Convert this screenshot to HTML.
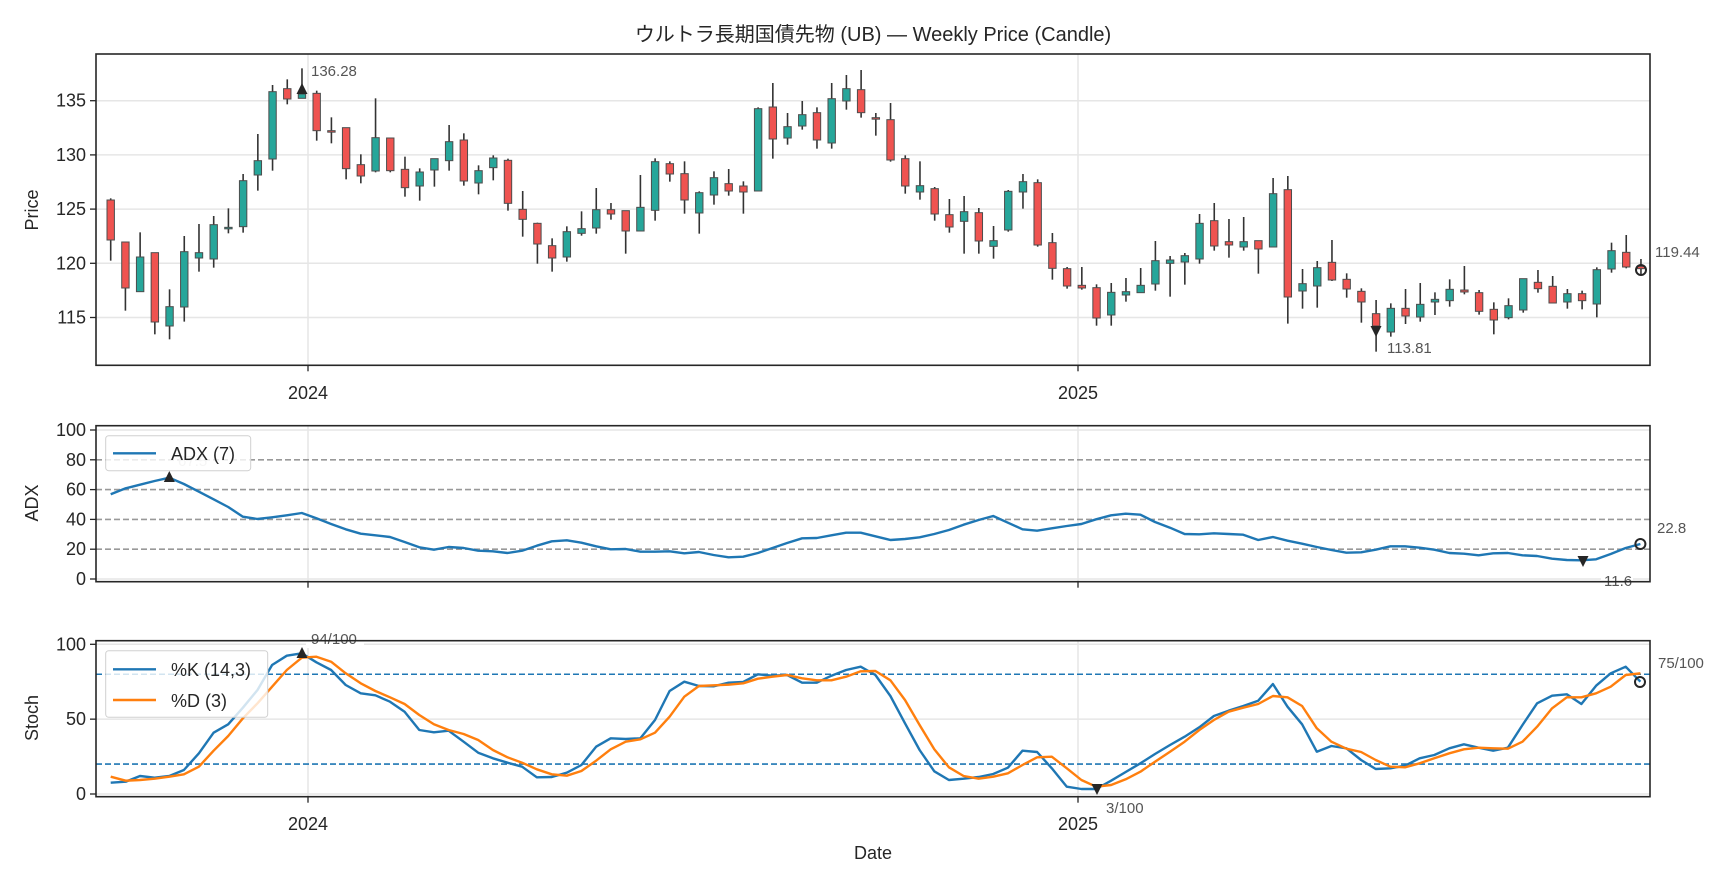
<!DOCTYPE html>
<html><head><meta charset="utf-8"><style>
html,body{margin:0;padding:0;background:#fff;}
svg{display:block;font-family:"Liberation Sans","Noto Sans CJK JP",sans-serif;}
</style></head><body>
<svg id="s" width="1728" height="878" viewBox="0 0 1728 878" xmlns="http://www.w3.org/2000/svg"></svg>
<script>
const S=document.getElementById('s');let h='';
const L=96,R=1650;
function line(x1,y1,x2,y2,c,w,da){h+=`<line x1="${x1}" y1="${y1}" x2="${x2}" y2="${y2}" stroke="${c}" stroke-width="${w}"${da?` stroke-dasharray="${da}"`:''}/>`;}
function txt(x,y,t,sz,anc,col,extra){h+=`<text x="${x}" y="${y}" font-size="${sz}" text-anchor="${anc||'start'}" fill="${col||'#262626'}" ${extra||''}>${t}</text>`;}
// Title
txt(873,41,'ウルトラ長期国債先物 (UB) — Weekly Price (Candle)',20,'middle');
// Panels
const P=[[54,365.3],[425.7,581.7],[640.7,796.7]];
// price grid
const py=p=>100.7+(135-p)*10.84;
[135,130,125,120,115].forEach(p=>{line(L,py(p),R,py(p),'#e6e6e6',1.5);line(L-6,py(p),L,py(p),'#262626',1.3);txt(L-10,py(p)+6,p,18,'end');});
[308,1078].forEach(x=>{[0,1,2].forEach(k=>line(x,P[k][0],x,P[k][1],'#e6e6e6',1.5));});
// candles
const C=[[450,570,445,632,1],[576,714,576,782,1],[621,725,547,725,0],[608,816,608,853,1],[770,828,718,868,0],[605,771,558,815,0],[608,624,522,665,0],[524,627,498,653,0],[532,536,475,550,0],[392,530,372,548,0],[332,375,252,422,0],[125,327,105,362,0],[116,147,88,163,1],[132,145,55,145,0],[130,242,122,272,1],[242,245,202,280,1],[233,356,233,388,1],[344,378,313,400,1],[263,363,145,367,0],[264,362,264,367,1],[358,413,320,440,1],[366,408,355,452,0],[326,360,326,410,0],[275,332,225,362,0],[270,393,250,407,1],[362,399,346,433,0],[324,353,316,391,0],[331,460,326,482,1],
[478,508,423,560,1],[520,582,518,641,1],[587,624,565,665,1],[545,621,529,635,0],[536,550,484,557,0],[479,534,414,551,0],[479,492,459,509,1],[482,543,482,611,1],[472,543,375,543,0],[335,481,325,512,0],[341,372,334,395,1],[371,450,334,491,1],[428,489,424,551,0],[383,435,364,464,0],[401,423,357,437,1],[408,426,394,491,1],[176,423,172,423,0],[171,267,99,326,1],[230,264,189,284,0],[194,228,153,239,0],[188,270,172,296,1],[146,279,99,296,0],[116,153,75,179,0],[119,188,60,203,1],[203,207,189,257,1],[209,330,159,335,1],[326,408,316,431,1],
[407,426,334,449,0],[416,492,411,512,1],[494,531,447,548,1],[485,514,438,611,0],[488,573,474,611,1],[572,589,528,626,0],[424,540,420,545,0],[395,426,372,476,0],[398,585,388,590,1],[578,655,549,689,1],[656,708,651,716,1],[706,714,651,719,1],[713,804,703,827,1],[727,795,699,827,0],[725,735,684,755,0],[706,728,654,728,0],[632,702,573,722,0],[630,640,618,740,0],[617,636,609,704,0],[520,627,492,641,0],[512,588,459,602,1],[575,585,507,623,1],[575,591,501,602,0],[572,597,572,671,1],[431,591,384,591,0],[419,741,378,821,1],[701,723,657,776,0],[653,708,633,773,0],
[637,690,570,693,1],[688,717,670,743,1],[724,756,715,818,1],[791,828,750,905,1],[775,846,760,860,0],[775,798,717,822,1],[763,801,699,815,0],[748,756,727,795,0],[718,752,688,770,0],[720,726,648,733,1],[728,784,720,794,1],[778,810,757,853,1],[767,803,745,808,0],[686,780,686,788,0],[697,716,660,728,1],[709,759,678,759,1],[731,756,717,776,0],[731,752,722,778,1],[659,762,652,802,0],[602,657,578,668,0],[607,651,555,655,1],[649,656,627,672,1]];
const cx=i=>110.7+14.714*i;
C.forEach((c,i)=>{const x=cx(i),y=v=>50+v/3;
 line(x,y(c[2]),x,y(c[3]),'#333',1.6);
 let t=y(c[0]),b=y(c[1]);if(b-t<1.5){b=t+1.5;}
 h+=`<rect x="${x-3.7}" y="${t}" width="7.4" height="${b-t}" fill="${c[4]?'#ef5350':'#26a69a'}" stroke="#4d4d4d" stroke-width="1"/>`;});
// price markers
h+=`<polygon points="302,83 296.5,94 307.5,94" fill="#262626"/>`;
txt(311,76,'136.28',15,'start','#555');
h+=`<polygon points="1376,337 1370.5,326 1381.5,326" fill="#262626"/>`;
txt(1387,353,'113.81',15,'start','#555');
h+=`<circle cx="1641" cy="270" r="5" fill="none" stroke="#262626" stroke-width="2"/>`;
txt(1655,257,'119.44',15,'start','#555');
// ADX panel
const ay=v=>579-1.49*v;
[0,100].forEach(v=>line(L,ay(v),R,ay(v),'#e6e6e6',1.5));
[20,40,60,80].forEach(v=>line(L,ay(v),R,ay(v),'#999',1.6,'6,3'));
[0,20,40,60,80,100].forEach(v=>{line(L-6,ay(v),L,ay(v),'#262626',1.3);txt(L-10,ay(v)+6,v,18,'end');});
// Stoch panel
const sy=v=>794-1.497*v;
[0,50,100].forEach(v=>line(L,sy(v),R,sy(v),'#e6e6e6',1.5));
[20,80].forEach(v=>line(L,sy(v),R,sy(v),'#1f77b4',1.6,'6,3'));
[0,50,100].forEach(v=>{line(L-6,sy(v),L,sy(v),'#262626',1.3);txt(L-10,sy(v)+6,v,18,'end');});
function poly(segs,col){let pts=[];segs.forEach(([ox,arr])=>arr.forEach(([zx,zy])=>pts.push([(ox+zx/2.8).toFixed(1),(410+zy/3).toFixed(1)])));
 pts.sort((a,b)=>a[0]-b[0]);pts=pts.filter(p=>p[0]>=110&&p[0]<=1641);
 h+=`<polyline points="${pts.map(p=>p.join(',')).join(' ')}" fill="none" stroke="${col}" stroke-width="2.4" stroke-linejoin="round"/>`;}
poly([[0,[[310,253],[352,235],[392,224],[433,213],[474,203],[515,222],[557,245],[598,268],[639,291],[680,320],[721,327],[762,322],[803,316],[845,309],[886,325],[927,342],[968,358],[1010,371],[1051,376],[1092,381],[1133,396],[1174,412],[1215,419],[1256,411],[1298,414],[1339,422],[1380,424],[1421,429],[1462,422],[1503,407],[1545,394]]],
[550,[[47,391],[88,398],[129,409],[170,418],[212,417],[253,425],[294,425],[335,424],[376,430],[417,426],[458,435],[500,442],[541,440],[582,429],[623,414],[664,399],[706,385],[747,384],[788,376],[829,368],[870,368],[911,379],[953,390],[994,387],[1035,382],[1076,372],[1117,360],[1158,344],[1200,330],[1241,318],[1282,338],[1323,358],[1364,362],[1405,355],[1447,348],[1488,342],[1529,328]]],
[1100,[[31,316],[72,311],[113,314],[154,336],[196,353],[237,372],[278,373],[319,370],[360,372],[401,374],[443,390],[484,381],[525,392],[566,401],[607,411],[648,420],[690,428],[731,427],[772,419],[813,409],[854,409],[895,413],[936,419],[978,429],[1019,431],[1060,436],[1101,430],[1142,429],[1183,436],[1224,438],[1266,446],[1307,450],[1348,451],[1389,448],[1430,432],[1472,414],[1513,402]]]],'#1f77b4');
poly([[0,[[310,1118],[352,1115],[392,1098],[433,1103],[474,1098],[515,1080],[557,1030],[598,968],[639,943],[680,893],[721,840],[762,765],[803,737],[845,730],[886,757],[927,780],[968,825],[1010,850],[1051,856],[1092,875],[1133,905],[1174,960],[1215,967],[1256,962],[1298,995],[1339,1028],[1380,1045],[1421,1058],[1462,1070],[1503,1102],[1545,1101]]],
[550,[[47,1088],[88,1065],[129,1010],[170,985],[212,987],[253,985],[294,930],[335,843],[376,815],[417,828],[458,829],[500,818],[541,816],[582,793],[623,797],[664,795],[706,818],[747,818],[788,797],[829,780],[870,770],[911,795],[953,858],[994,940],[1035,1020],[1076,1084],[1117,1110],[1158,1106],[1200,1101],[1241,1092],[1282,1073],[1323,1022],[1364,1026],[1405,1075],[1447,1130],[1488,1137],[1529,1137]]],
[1100,[[31,1112],[72,1086],[113,1060],[154,1032],[196,1005],[237,980],[278,952],[319,918],[360,902],[401,888],[443,872],[484,822],[525,890],[566,943],[607,1025],[648,1008],[690,1015],[731,1050],[772,1077],[813,1075],[854,1067],[895,1045],[936,1035],[978,1015],[1019,1003],[1060,1013],[1101,1022],[1142,1013],[1183,945],[1224,880],[1266,857],[1307,853],[1348,882],[1389,827],[1430,790],[1472,770],[1513,815]]]],'#1f77b4');
poly([[0,[[310,1100],[352,1112],[392,1110],[433,1106],[474,1100],[515,1093],[557,1070],[598,1022],[639,978],[680,925],[721,880],[762,830],[803,780],[845,743],[886,740],[927,755],[968,790],[1010,820],[1051,843],[1092,862],[1133,882],[1174,915],[1215,943],[1256,960],[1298,972],[1339,990],[1380,1020],[1421,1042],[1462,1058],[1503,1078],[1545,1093]]],
[550,[[47,1097],[88,1083],[129,1052],[170,1018],[212,995],[253,988],[294,968],[335,920],[376,860],[417,828],[458,826],[500,824],[541,820],[582,806],[623,800],[664,795],[706,805],[747,811],[788,811],[829,800],[870,784],[911,783],[953,811],[994,870],[1035,945],[1076,1018],[1117,1072],[1158,1098],[1200,1106],[1241,1100],[1282,1090],[1323,1065],[1364,1042],[1405,1040],[1447,1075],[1488,1110],[1529,1130]]],
[1100,[[31,1125],[72,1108],[113,1085],[154,1055],[196,1025],[237,995],[278,960],[319,930],[360,905],[401,893],[443,882],[484,858],[525,862],[566,888],[607,955],[648,995],[690,1016],[731,1026],[772,1050],[813,1070],[854,1072],[895,1060],[936,1045],[978,1030],[1019,1018],[1060,1013],[1101,1015],[1142,1016],[1183,995],[1224,950],[1266,895],[1307,862],[1348,862],[1389,850],[1430,830],[1472,795],[1513,790]]]],'#ff7f0e');
// ADX markers
h+=`<polygon points="169.3,471 163.8,482 174.8,482" fill="#262626"/>`;
txt(178,466,'67.5',15,'start','#ccc');
h+=`<polygon points="1583,567 1577.5,556 1588.5,556" fill="#262626"/>`;
h+=`<rect x="1601" y="572" width="32" height="18" fill="#fff"/>`;
txt(1604,586,'11.6',15,'start','#555');
h+=`<circle cx="1640.4" cy="544" r="5" fill="none" stroke="#262626" stroke-width="2"/>`;
txt(1657,533,'22.8',15,'start','#555');
// Stoch markers
h+=`<rect x="306" y="630" width="58" height="18" fill="#fff"/>`;
txt(311,644,'94/100',15,'start','#555');
h+=`<polygon points="302,647 296.5,658 307.5,658" fill="#262626"/>`;
h+=`<polygon points="1097,795 1091.5,784 1102.5,784" fill="#262626"/>`;
txt(1106,813,'3/100',15,'start','#555');
h+=`<circle cx="1640" cy="682" r="5" fill="none" stroke="#262626" stroke-width="2"/>`;
txt(1658,668,'75/100',15,'start','#555');
// legends
h+=`<rect x="105.7" y="435.7" width="145" height="35" rx="3" fill="#fff" fill-opacity="0.8" stroke="#d0d0d0"/>`;
line(113,453.3,156,453.3,'#1f77b4',2.4);txt(171,460,'ADX (7)',18);
h+=`<rect x="105.7" y="650.7" width="162" height="66.6" rx="3" fill="#fff" fill-opacity="0.8" stroke="#d0d0d0"/>`;
line(113,669.3,156,669.3,'#1f77b4',2.4);txt(171,676,'%K (14,3)',18);
line(113,700,156,700,'#ff7f0e',2.4);txt(171,707,'%D (3)',18);
// spines
P.forEach(([t,b])=>h+=`<rect x="${L}" y="${t}" width="${R-L}" height="${b-t}" fill="none" stroke="#262626" stroke-width="1.6"/>`);
[308,1078].forEach(x=>{P.forEach(([t,b])=>line(x,b,x,b+6,'#262626',1.3));});
txt(308,399,'2024',18,'middle');txt(1078,399,'2025',18,'middle');
txt(308,830,'2024',18,'middle');txt(1078,830,'2025',18,'middle');
txt(873,859,'Date',18,'middle');
h+=`<text transform="translate(38,210) rotate(-90)" font-size="18" text-anchor="middle" fill="#262626">Price</text>`;
h+=`<text transform="translate(38,503) rotate(-90)" font-size="18" text-anchor="middle" fill="#262626">ADX</text>`;
h+=`<text transform="translate(38,718) rotate(-90)" font-size="18" text-anchor="middle" fill="#262626">Stoch</text>`;
S.innerHTML=h;
</script>
</body></html>
